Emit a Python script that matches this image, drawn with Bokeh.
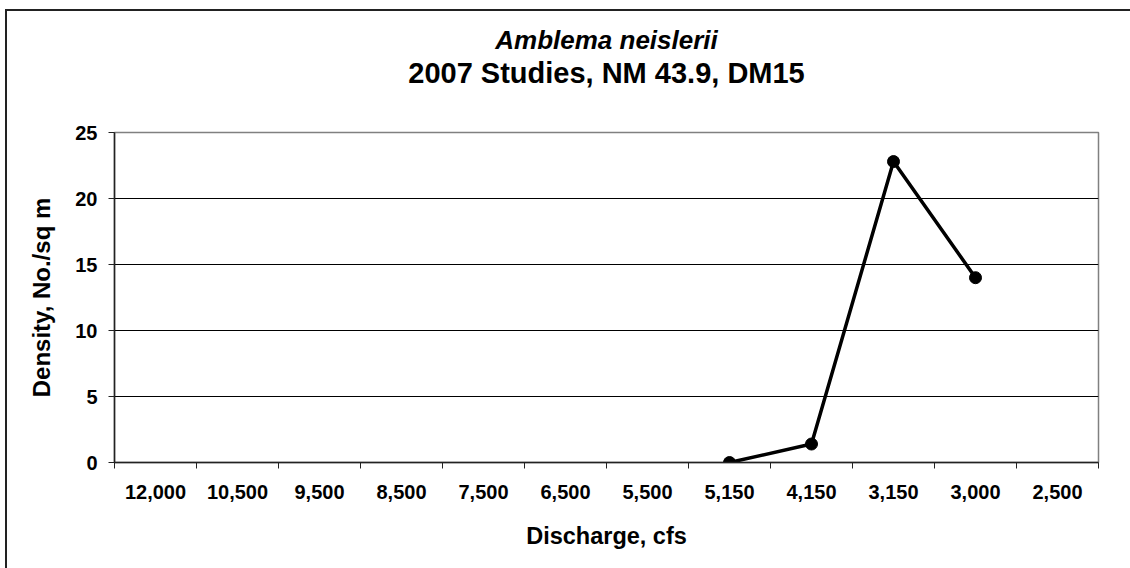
from bokeh.plotting import figure
from bokeh.layouts import column
from bokeh.models import Range1d, FixedTicker, Title, ColumnDataSource
from bokeh.embed import file_html
from bokeh.resources import INLINE

categories = ["12,000", "10,500", "9,500", "8,500", "7,500", "6,500",
              "5,500", "5,150", "4,150", "3,150", "3,000", "2,500"]
series_cats = ["5,150", "4,150", "3,150", "3,000"]
density = [0.0, 1.4, 22.8, 14.0]
y_ticks = [0, 5, 10, 15, 20, 25]

FONT = "Liberation Sans"

xpos = [categories.index(c) + 0.5 for c in series_cats]
src = ColumnDataSource(dict(x=xpos, y=density))

p = figure(width=1123, height=557, output_backend="svg", toolbar_location=None,
           x_range=Range1d(0, len(categories)), y_range=Range1d(0, 25),
           min_border_left=107, min_border_right=32, min_border_top=121,
           min_border_bottom=106)
p.outline_line_color = "#808080"
p.outline_line_width = 1.5
p.background_fill_color = "white"
p.border_fill_color = "white"

has_standoff = "standoff" in Title.properties()

def title(text, size, style):
    kw = dict(text=text, align="center", text_font=FONT, text_font_size=size,
              text_font_style=style, text_color="black")
    if has_standoff:
        kw["standoff"] = 0
    return Title(**kw)

# titles (first added is closest to the plot)
p.add_layout(title(" ", "38px", "bold"), "above")
p.add_layout(title("2007 Studies, NM 43.9, DM15", "29px", "bold"), "above")
p.add_layout(title("Amblema neislerii", "26px", "bold italic"), "above")

# x axis
xa = p.xaxis[0]
xa.ticker = FixedTicker(ticks=[i + 0.5 for i in range(len(categories))],
                        minor_ticks=list(range(len(categories) + 1)))
xa.major_label_overrides = {i + 0.5: c for i, c in enumerate(categories)}
xa.major_tick_line_color = None
xa.minor_tick_line_color = "#222"
xa.minor_tick_out = 6
xa.minor_tick_in = 0
xa.axis_line_color = "#222"
xa.axis_line_width = 1.5
xa.major_label_text_font = FONT
xa.major_label_text_font_size = "20px"
xa.major_label_text_font_style = "bold"
xa.major_label_text_color = "black"
xa.major_label_standoff = 16
xa.axis_label = "Discharge, cfs"
xa.axis_label_text_font = FONT
xa.axis_label_text_font_size = "23.5px"
xa.axis_label_text_font_style = "bold"
xa.axis_label_text_color = "black"
xa.axis_label_standoff = 21

# y axis
ya = p.yaxis[0]
ya.ticker = FixedTicker(ticks=y_ticks)
ya.major_tick_out = 6
ya.major_tick_in = 0
ya.minor_tick_line_color = None
ya.major_tick_line_color = "#222"
ya.axis_line_color = "#222"
ya.axis_line_width = 1.5
ya.major_label_text_font = FONT
ya.major_label_text_font_size = "20px"
ya.major_label_text_font_style = "bold"
ya.major_label_text_color = "black"
ya.major_label_standoff = 11
ya.axis_label = "Density, No./sq m"
ya.axis_label_text_font = FONT
ya.axis_label_text_font_size = "24px"
ya.axis_label_text_font_style = "bold"
ya.axis_label_text_color = "black"
ya.axis_label_standoff = 17

p.xgrid.visible = False
p.ygrid.ticker = FixedTicker(ticks=[5, 10, 15, 20])
p.ygrid.grid_line_color = "black"
p.ygrid.grid_line_width = 1

p.line("x", "y", source=src, line_color="black", line_width=3.5)
p.scatter("x", "y", source=src, size=12, fill_color="black", line_color="black")

layout = column(p, styles={"border-left": "2px solid #222", "border-top": "2px solid #222",
                           "margin-left": "5px", "margin-top": "9px"})

open("out.html", "w").write(file_html(layout, INLINE))
